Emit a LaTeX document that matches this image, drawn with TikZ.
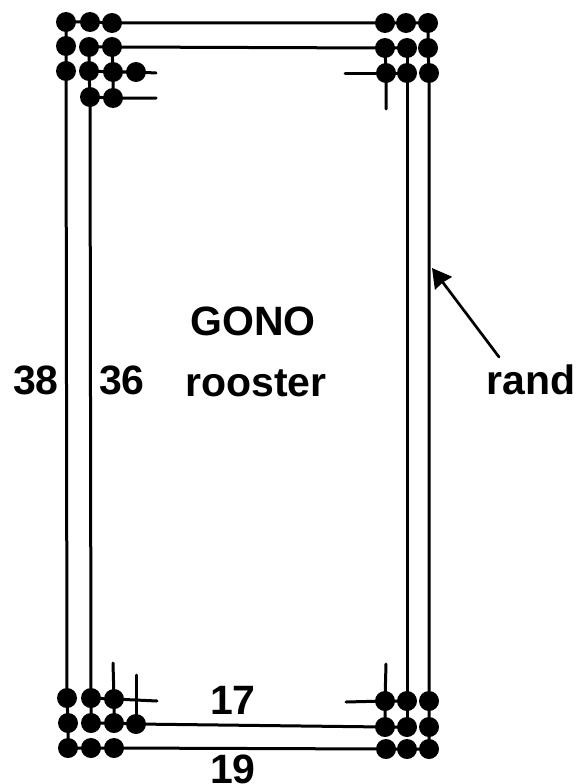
\documentclass[tikz,border=0pt]{standalone}
\usepackage{fontspec}
\setmainfont{Liberation Sans}
\usetikzlibrary{arrows.meta}
\tikzset{
  dot/.style={circle,fill=black,draw=none,inner sep=0pt,minimum size=20pt},
  wire/.style={line width=3pt,line cap=round,black},
  lbl/.style={inner sep=0pt,font=\fontsize{41}{41}\selectfont\bfseries,text=black},
}
\begin{document}
\begin{tikzpicture}[x=1pt,y=-1pt]
\useasboundingbox (0,0) rectangle (577,784);
\foreach \n/\x/\y in {
 a1/66/22,a2/90/22,a3/112/23,
 b1/66/46,b2/89/47,b3/112/47,
 c1/66/71,c2/89/71,c3/113/72,c4/136/72,
 d2/90/97,d3/113/98,
 e1/385/23,e2/406/23,e3/428/23,
 f1/385/48,f2/407/48,f3/428/48,
 g1/386/73,g2/407/73,g3/429/73,
 h1/67/698,h2/91/698,h3/114/699,
 i1/68/723,i2/91/723,i3/114/723,i4/136/724,
 j1/68/748,j2/91/748,j3/114/748,
 k1/385/701,k2/407/701,k3/429/701,
 l1/385/727,l2/407/727,l3/429/727,
 m1/386/749,m2/407/749,m3/429/749}
  {\node[dot] (\n) at (\x,\y) {};}
\coordinate (s1) at (156,73);
\coordinate (s2) at (156,98);
\coordinate (s3) at (345,73);
\coordinate (s4) at (386,109);
\coordinate (s5) at (113,663);
\coordinate (s6) at (157,701);
\coordinate (s7) at (136,675);
\coordinate (s8) at (346,702);
\coordinate (s9) at (386,664);
\draw[wire] (a1.center)--(a2.center)--(a3.center)--(e1.center)--(e2.center)--(e3.center);
\draw[wire] (a1.center)--(b1.center)--(c1.center)--(h1.center)--(i1.center)--(j1.center);
\draw[wire] (b2.center)--(b3.center)--(f1.center)--(f2.center);
\draw[wire] (b2.center)--(c2.center)--(d2.center)--(h2.center)--(i2.center);
\draw[wire] (b3.center)--(c3.center)--(d3.center);
\draw[wire] (c2.center)--(c3.center)--(c4.center)--(s1);
\draw[wire] (d2.center)--(d3.center)--(s2);
\draw[wire] (e3.center)--(f3.center)--(g3.center)--(k3.center)--(l3.center)--(m3.center);
\draw[wire] (f1.center)--(g1.center)--(s4);
\draw[wire] (f2.center)--(g2.center)--(k2.center)--(l2.center);
\draw[wire] (s3)--(g1.center)--(g2.center);
\draw[wire] (s5)--(h3.center)--(i3.center);
\draw[wire] (h2.center)--(h3.center)--(s6);
\draw[wire] (i2.center)--(i3.center)--(i4.center)--(l1.center)--(l2.center);
\draw[wire] (s7)--(i4.center);
\draw[wire] (j1.center)--(j2.center)--(j3.center)--(m1.center)--(m2.center)--(m3.center);
\draw[wire] (s9)--(k1.center)--(l1.center);
\draw[wire] (s8)--(k1.center)--(k2.center);
\node[lbl] (gono) at (253,321) {GONO};
\node[lbl] (roos) at (256,383) {rooster};
\node[lbl] (n38) at (36,380) {38};
\node[lbl] (n36) at (122,380) {36};
\node[lbl] (rand) at (531,380) {rand};
\node[lbl] (n17) at (233,700) {17};
\node[lbl] (n19) at (233,769) {19};
\coordinate (at) at (499,357);
\coordinate (ah) at (432,268);
\draw[line width=2.7pt,line cap=round,-{Stealth[inset=1pt,length=19pt,width=21pt]}] (at)--(ah);
\end{tikzpicture}
\end{document}
